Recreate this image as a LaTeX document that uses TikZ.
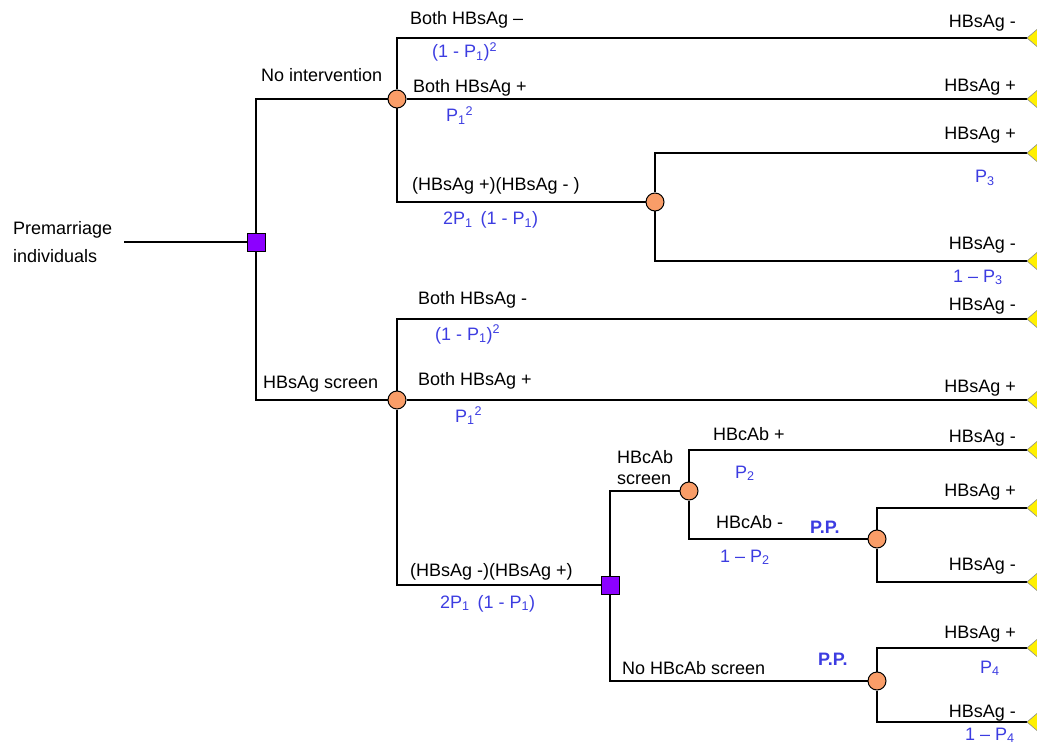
\documentclass[tikz,border=0pt]{standalone}
\usepackage{fontspec}
\setmainfont{Liberation Sans}
\definecolor{chancefill}{RGB}{249,157,104}
\definecolor{decfill}{RGB}{140,0,255}
\definecolor{termfill}{RGB}{255,240,0}
\definecolor{probblue}{RGB}{60,60,225}
\tikzset{
	decision/.style = {rectangle, draw, line width=1pt, fill=decfill, minimum size=18pt, inner sep=0pt},
	chance/.style = {circle, draw, line width=1pt, fill=chancefill, minimum size=18pt, inner sep=0pt},
	txt/.style = {inner sep=0pt, font=\fontsize{18}{28}\selectfont},
	prob/.style = {txt, text=probblue},
	branch/.style = {line width=1.1pt},
}

\begin{document}
\begin{tikzpicture}[x=1pt, y=-1pt]
				\useasboundingbox (0,0) rectangle (1037,749);
				\node[txt, align=left, anchor=west] (root) at (13,242) {Premarriage\\individuals};
				\coordinate (rootend) at ([xshift=12pt]root.east);
				\node[decision] (d1) at (256,242) {};
				\node[chance] (c1) at (397,99) {};
				\node[chance] (c2) at (655,202) {};
				\node[chance] (c3) at (397,400) {};
				\node[decision] (d2) at (610,585) {};
				\node[chance] (c4) at (689,491) {};
				\node[chance] (c5) at (877,539) {};
				\node[chance] (c6) at (877,681) {};
				\coordinate (t1) at (1027,38);
				\coordinate (t2) at (1027,99);
				\coordinate (t3) at (1027,153);
				\coordinate (t4) at (1027,261);
				\coordinate (t5) at (1027,319);
				\coordinate (t6) at (1027,400);
				\coordinate (t7) at (1027,450);
				\coordinate (t8) at (1027,508);
				\coordinate (t9) at (1027,582);
				\coordinate (t10) at (1027,648);
				\coordinate (t11) at (1027,722);
				\draw[branch] (rootend) -- (d1);
				\draw[branch] (d1) |- (c1);
				\draw[branch] (d1) |- (c3);
				\draw[branch] (c1) |- (t1);
				\draw[branch] (c1) -- (t2);
				\draw[branch] (c1) |- (c2);
				\draw[branch] (c2) |- (t3);
				\draw[branch] (c2) |- (t4);
				\draw[branch] (c3) |- (t5);
				\draw[branch] (c3) -- (t6);
				\draw[branch] (c3) |- (d2);
				\draw[branch] (d2) |- (c4);
				\draw[branch] (d2) |- (c6);
				\draw[branch] (c4) |- (t7);
				\draw[branch] (c4) |- (c5);
				\draw[branch] (c5) |- (t8);
				\draw[branch] (c5) |- (t9);
				\draw[branch] (c6) |- (t10);
				\draw[branch] (c6) |- (t11);
				\foreach \t in {t1,t2,t3,t4,t5,t6,t7,t8,t9,t10,t11}
					\filldraw[fill=termfill, draw=black!45, line width=0.6pt] (\t) -- ++(14,-12) -- ++(0,24) -- cycle;
				% upper subtree
				\node[txt, anchor=base west] (noint) at (261,82) {No intervention};
				\node[txt, anchor=base west] (bneg) at (410,25) {Both HBsAg --};
				\node[prob, anchor=base west] (pbneg) at (432,58) {(1 - P\textsubscript{1})\textsuperscript{2}};
				\node[txt, anchor=base west] (bpos) at (413,93) {Both HBsAg +};
				\node[prob, anchor=base west] (pbpos) at (446,122) {P\textsubscript{1}\textsuperscript{2}};
				\node[txt, anchor=base west] (mix) at (412,190) {(HBsAg +)(HBsAg - )};
				\node[prob, anchor=base west] (pmix) at (443,225) {2P\textsubscript{1}\, (1 - P\textsubscript{1})};
				\node[prob, anchor=base west] (pthree) at (975,183) {P\textsubscript{3}};
				\node[prob, anchor=base west] (qthree) at (953,282) {1 -- P\textsubscript{3}};
				% lower subtree
				\node[txt, anchor=base west] (screen) at (263,388) {HBsAg screen};
				\node[txt, anchor=base west] (sbneg) at (418,304) {Both HBsAg -};
				\node[prob, anchor=base west] (psbneg) at (435,340) {(1 - P\textsubscript{1})\textsuperscript{2}};
				\node[txt, anchor=base west] (sbpos) at (418,385) {Both HBsAg +};
				\node[prob, anchor=base west] (psbpos) at (455,422) {P\textsubscript{1}\textsuperscript{2}};
				\node[txt, anchor=base west] (smix) at (410,576) {(HBsAg -)(HBsAg +)};
				\node[prob, anchor=base west] (psmix) at (440,608) {2P\textsubscript{1}\, (1 - P\textsubscript{1})};
				\node[txt, align=left, anchor=west, font=\fontsize{18}{21}\selectfont] (cab) at (617,468) {HBcAb\\screen};
				\node[txt, anchor=base west] (cabpos) at (713,440) {HBcAb +};
				\node[prob, anchor=base west] (ptwo) at (735,478) {P\textsubscript{2}};
				\node[txt, anchor=base west] (cabneg) at (716,528) {HBcAb -};
				\node[prob, anchor=base west] (qtwo) at (720,562) {1 -- P\textsubscript{2}};
				\node[prob, anchor=base west, font=\fontsize{18}{28}\selectfont\bfseries] (ppone) at (810,533) {P.P.};
				\node[txt, anchor=base west] (nocab) at (622,674) {No HBcAb screen};
				\node[prob, anchor=base west, font=\fontsize{18}{28}\selectfont\bfseries] (pptwo) at (818,665) {P.P.};
				\node[prob, anchor=base west] (pfour) at (980,673) {P\textsubscript{4}};
				\node[prob, anchor=base west] (qfour) at (965,740) {1 -- P\textsubscript{4}};
				% outcomes
				\node[txt, anchor=base east] (o1) at (1016,28) {HBsAg -};
				\node[txt, anchor=base east] (o2) at (1016,92) {HBsAg +};
				\node[txt, anchor=base east] (o3) at (1016,140) {HBsAg +};
				\node[txt, anchor=base east] (o4) at (1016,250) {HBsAg -};
				\node[txt, anchor=base east] (o5) at (1016,310) {HBsAg -};
				\node[txt, anchor=base east] (o6) at (1016,392) {HBsAg +};
				\node[txt, anchor=base east] (o7) at (1016,442) {HBsAg -};
				\node[txt, anchor=base east] (o8) at (1016,496) {HBsAg +};
				\node[txt, anchor=base east] (o9) at (1016,570) {HBsAg -};
				\node[txt, anchor=base east] (o10) at (1016,638) {HBsAg +};
				\node[txt, anchor=base east] (o11) at (1016,717) {HBsAg -};
\end{tikzpicture}
\end{document}
